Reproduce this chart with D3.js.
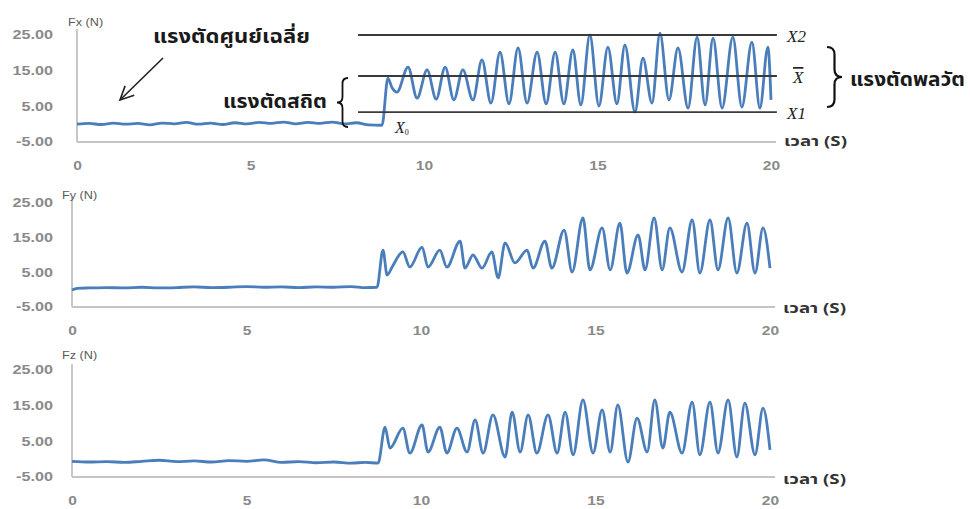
<!DOCTYPE html>
<html>
<head>
<meta charset="utf-8">
<script src="https://cdn.jsdelivr.net/npm/d3@7"></script>
<style>
  body { margin: 0; background: #fff; }
  svg { display: block; }
</style>
</head>
<body>
<div id="canvas"></div>
<script>
// values: [time (s), force (N)]
var fxSeries = [
  [0,0.0],[0.35,0.2],[0.7,-0.1],[1.05,0.3],[1.4,0.0],[1.75,0.2],[2.1,-0.2],[2.45,0.3],[2.8,0.1],[3.15,0.5],
  [3.5,0.0],[3.85,0.3],[4.2,-0.1],[4.55,0.4],[4.9,0.1],[5.25,0.5],[5.6,0.2],[5.95,0.6],[6.3,0.1],[6.65,0.5],
  [7.0,0.2],[7.35,0.6],[7.7,0.1],[8.05,0.4],[8.4,-0.2],[8.79,-0.3],
  [8.96,12.9],[9.08,10.2],[9.22,9.0],[9.54,16.0],[9.80,7.3],[10.09,15.2],[10.35,7.0],[10.61,16.0],[10.86,6.8],
  [11.12,15.2],[11.41,6.8],[11.67,18.0],[11.93,5.9],[12.19,20.2],[12.45,5.7],[12.71,21.4],[12.97,5.9],
  [13.26,20.2],[13.52,5.7],[13.78,20.2],[14.03,5.7],[14.29,20.8],[14.52,5.4],[14.78,25.0],[15.04,5.1],
  [15.30,21.6],[15.56,5.7],[15.79,22.2],[16.08,3.4],[16.31,18.5],[16.57,5.9],[16.80,25.5],[17.06,6.8],
  [17.32,21.4],[17.61,4.5],[17.87,24.4],[18.10,5.4],[18.33,24.1],[18.59,4.5],[18.90,24.4],[19.16,4.8],
  [19.45,23.0],[19.68,4.5],[19.91,21.6],[20.0,6.8]
];
var fySeries = [
  [0,-0.1],[0.15,0.4],[0.5,0.5],[1.0,0.6],[1.5,0.5],[2.0,0.7],[2.5,0.5],[3.0,0.6],[3.5,0.8],[4.0,0.6],
  [4.5,0.7],[5.0,0.9],[5.5,0.7],[6.0,0.8],[6.5,0.6],[7.0,0.8],[7.5,0.7],[8.0,0.9],[8.4,0.6],[8.74,0.7],
  [8.91,11.4],[9.03,4.2],[9.17,6.5],[9.48,10.9],[9.68,6.5],[10.03,12.3],[10.20,6.5],[10.54,11.4],[10.74,6.5],
  [11.12,14.0],[11.26,6.2],[11.49,10.0],[11.75,6.2],[12.03,10.9],[12.21,3.4],[12.41,13.5],[12.69,7.7],
  [13.04,11.4],[13.21,6.2],[13.55,14.0],[13.75,6.2],[14.10,17.2],[14.33,5.1],[14.64,20.7],[14.84,5.7],
  [15.19,17.8],[15.42,5.7],[15.70,19.2],[15.90,4.8],[16.22,15.8],[16.42,5.7],[16.68,20.7],[16.91,5.7],
  [17.13,17.8],[17.48,5.1],[17.77,20.1],[17.99,4.8],[18.28,20.1],[18.51,5.7],[18.80,20.7],[19.05,4.8],
  [19.34,19.2],[19.57,4.8],[19.80,17.8],[20.0,6.2]
];
var fzSeries = [
  [0,-0.6],[0.5,-0.8],[1.0,-0.7],[1.5,-0.9],[2.0,-0.6],[2.5,-0.3],[3.0,-0.7],[3.5,-0.5],[4.0,-0.8],[4.5,-0.4],
  [5.0,-0.6],[5.5,-0.2],[6.0,-0.9],[6.5,-0.7],[7.0,-1.0],[7.5,-0.8],[8.0,-1.1],[8.4,-0.9],[8.77,-1.1],
  [8.97,9.0],[9.11,3.1],[9.48,8.7],[9.68,1.7],[10.03,9.6],[10.20,2.0],[10.54,9.0],[10.74,1.7],[11.03,8.7],
  [11.32,2.0],[11.55,11.0],[11.78,1.7],[12.06,12.4],[12.41,0.6],[12.61,13.2],[12.84,2.0],[13.07,12.4],
  [13.32,1.7],[13.64,12.4],[13.90,1.7],[14.13,13.2],[14.36,1.2],[14.64,16.6],[14.93,1.7],[15.19,13.8],
  [15.42,2.0],[15.64,15.2],[15.93,-0.8],[16.19,11.5],[16.48,2.0],[16.70,16.6],[16.93,3.1],[17.13,13.2],
  [17.48,1.7],[17.77,16.0],[17.99,1.2],[18.28,16.0],[18.51,1.7],[18.80,16.6],[19.05,0.6],[19.28,15.7],
  [19.57,1.2],[19.80,14.3],[20.0,2.6]
];

var yTicks = [25, 15, 5, -5];
var xTicks = [0, 5, 10, 15, 20];
var panelNames = ['Fx (N)', 'Fy (N)', 'Fz (N)'];
var timeLabel = 'เวลา (S)';

// reference levels drawn on the Fx panel
var refValues = [25, 13.5, 3.4];
var refNames = ['X2', 'X', 'X1'];
var refStart = 8.1, refEnd = 20.17;

var THAI = "'Noto Sans Thai','Noto Sans Thai UI','Loma','Garuda','Waree','Tlwg Typo','Norasi','Tahoma','DejaVu Sans',sans-serif";
var SANS = "'Liberation Sans', Arial, sans-serif";
var SERIF = "'Liberation Serif', 'Times New Roman', serif";

var W = 970, H = 509;
var svg = d3.select('#canvas').append('svg')
    .attr('width', W)
    .attr('height', H);

// panel boxes (pixel layout of each small chart)
var boxes = [
  {l:77, r:771, t:35,  b:142, nameX:68, nameDy:-9, timeDy:4},
  {l:72, r:770, t:203, b:307, nameX:62, nameDy:-4, timeDy:6},
  {l:72, r:770, t:370, b:477, nameX:62, nameDy:-11, timeDy:7}
];
var allSeries = [fxSeries, fySeries, fzSeries];

// the source picture is stretched sideways, so text is widened too
function stretch(sel, sx) {
  sel.each(function() {
    var t = d3.select(this);
    var x = +t.attr('x') || 0, y = +t.attr('y') || 0;
    t.attr('x', 0).attr('y', 0)
     .attr('transform', 'translate(' + x + ',' + y + ') scale(' + sx + ',1)');
  });
}

function bracePath(x, y1, y2, w) {
  var q = w / 2, c = Math.abs(q), ym = (y1 + y2) / 2;
  return 'M' + x + ',' + y1 +
    ' Q' + (x + q) + ',' + y1 + ' ' + (x + q) + ',' + (y1 + c) +
    ' L' + (x + q) + ',' + (ym - c) +
    ' Q' + (x + q) + ',' + ym + ' ' + (x + w) + ',' + ym +
    ' Q' + (x + q) + ',' + ym + ' ' + (x + q) + ',' + (ym + c) +
    ' L' + (x + q) + ',' + (y2 - c) +
    ' Q' + (x + q) + ',' + y2 + ' ' + x + ',' + y2;
}

var fxX, fxY;

boxes.forEach(function(b, i) {
  var x = d3.scaleLinear().domain([0, 20]).range([b.l, b.r]);
  var y = d3.scaleLinear().domain([-5, 25]).range([b.b, b.t]);
  if (i === 0) { fxX = x; fxY = y; }
  var g = svg.append('g');

  // y labels (plain hyphen for the minus, like the source)
  var ay = g.append('g')
      .attr('transform', 'translate(' + b.l + ',0)')
      .call(d3.axisLeft(y).tickValues(yTicks)
        .tickFormat(function(d) { return d.toFixed(2); })
        .tickSize(0).tickPadding(b.l - 53));
  ay.select('.domain').remove();
  ay.selectAll('text')
      .attr('fill', '#8a8a8a')
      .style('font', 'bold 12px ' + SANS)
      .call(stretch, 1.35);

  // x labels
  var ax = g.append('g')
      .attr('transform', 'translate(0,' + b.b + ')')
      .call(d3.axisBottom(x).tickValues(xTicks).tickSize(0).tickPadding(19));
  ax.select('.domain').remove();
  ax.selectAll('text')
      .attr('fill', '#8a8a8a')
      .style('font', 'bold 12px ' + SANS)
      .call(stretch, 1.3);

  // axis lines
  g.append('line')
      .attr('x1', b.l).attr('x2', b.l)
      .attr('y1', b.t - 6).attr('y2', b.b)
      .attr('stroke', '#b4b4b4').attr('stroke-width', 1.5);
  g.append('line')
      .attr('x1', b.l).attr('x2', x(20) + 5)
      .attr('y1', b.b).attr('y2', b.b)
      .attr('stroke', '#c4c4c4').attr('stroke-width', 2);

  // force trace
  var line = d3.line()
      .curve(d3.curveMonotoneX)
      .x(function(d) { return x(d[0]); })
      .y(function(d) { return y(d[1]); });
  g.append('path')
      .datum(allSeries[i])
      .attr('d', line)
      .attr('fill', 'none')
      .attr('stroke', '#4a7ebb')
      .attr('stroke-width', 2.8)
      .attr('stroke-linejoin', 'round');

  // panel name
  g.append('text')
      .attr('x', b.nameX).attr('y', b.t + b.nameDy)
      .attr('fill', '#595959')
      .style('font', '11px ' + SANS)
      .text(panelNames[i])
      .call(stretch, 1.15);

  // time label
  g.append('text')
      .attr('x', x(20) + 13).attr('y', b.b + b.timeDy)
      .attr('fill', '#333')
      .attr('textLength', 63).attr('lengthAdjust', 'spacingAndGlyphs')
      .style('font', 'bold 14px ' + THAI)
      .text(timeLabel);
});

// reference levels on Fx
var refs = svg.append('g');
refs.selectAll('line')
    .data(refValues)
    .enter()
    .append('line')
    .attr('x1', fxX(refStart)).attr('x2', fxX(refEnd))
    .attr('y1', function(d) { return fxY(d); })
    .attr('y2', function(d) { return fxY(d); })
    .attr('stroke', '#3a3a3a').attr('stroke-width', 1.8);
refs.selectAll('text')
    .data(refValues)
    .enter()
    .append('text')
    .attr('x', fxX(20) + 16)
    .attr('y', function(d) { return fxY(d) + 7; })
    .attr('fill', '#222')
    .style('font', 'italic 17px ' + SERIF)
    .style('text-decoration', function(d, i) { return i === 1 ? 'overline' : 'none'; })
    .attr('dx', function(d, i) { return i === 1 ? 6 : 0; })
    .text(function(d, i) { return refNames[i]; });

// X0 marker at the step
var x0 = svg.append('text')
    .attr('x', 395).attr('y', 133)
    .attr('fill', '#222')
    .style('font', 'italic 16px ' + SERIF)
    .text('X');
x0.append('tspan').attr('dy', 2).style('font-size', '8px').style('font-style', 'normal').text('0');

// braces
svg.append('path')
    .attr('d', bracePath(827, 47, 107, 15))
    .attr('fill', 'none').attr('stroke', '#111').attr('stroke-width', 2.2);
svg.append('path')
    .attr('d', bracePath(348, 78, 127, -11))
    .attr('fill', 'none').attr('stroke', '#111').attr('stroke-width', 1.8);

// arrow pointing at the baseline
var tail = [163, 58], tip = [120, 100];
var ang = Math.atan2(tip[1] - tail[1], tip[0] - tail[0]);
svg.append('line')
    .attr('x1', tail[0]).attr('y1', tail[1]).attr('x2', tip[0]).attr('y2', tip[1])
    .attr('stroke', '#222').attr('stroke-width', 1.6);
svg.append('path')
    .attr('d', 'M' + (tip[0] - 15 * Math.cos(ang - 0.45)) + ',' + (tip[1] - 15 * Math.sin(ang - 0.45)) +
               ' L' + tip[0] + ',' + tip[1] +
               ' L' + (tip[0] - 15 * Math.cos(ang + 0.45)) + ',' + (tip[1] - 15 * Math.sin(ang + 0.45)))
    .attr('fill', 'none').attr('stroke', '#222').attr('stroke-width', 1.6);

// Thai annotations
var notes = [
  {text:'แรงตัดศูนย์เฉลี่ย', x:153, y:43, w:157},
  {text:'แรงตัดสถิต', x:223, y:108, w:104},
  {text:'แรงตัดพลวัต', x:850, y:86, w:115}
];
svg.selectAll('.note')
    .data(notes)
    .enter()
    .append('text')
    .attr('class', 'note')
    .attr('x', function(d) { return d.x; })
    .attr('y', function(d) { return d.y; })
    .attr('textLength', function(d) { return d.w; })
    .attr('lengthAdjust', 'spacingAndGlyphs')
    .attr('fill', '#1a1a1a')
    .style('font', 'bold 19px ' + THAI)
    .text(function(d) { return d.text; });
</script>
</body>
</html>
